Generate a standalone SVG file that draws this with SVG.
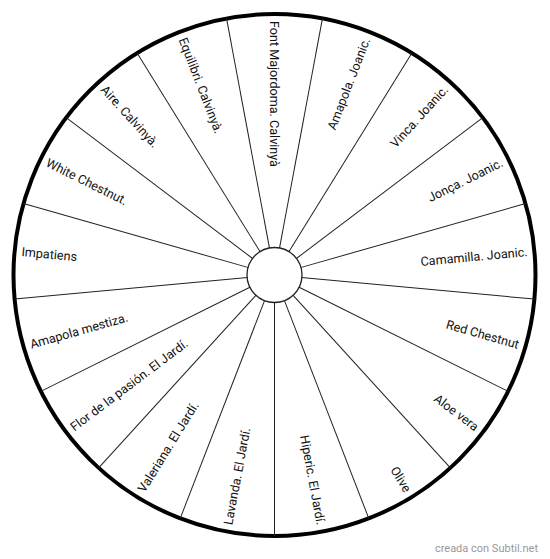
<svg xmlns="http://www.w3.org/2000/svg" width="550" height="559" viewBox="0 0 550 559">
<style>
.sp{stroke:#222;stroke-width:1}
.lb{font-family:Roboto,"Liberation Sans",sans-serif;font-size:12.6px;fill:#111;dominant-baseline:central}
.o{text-anchor:end}
.i{text-anchor:start}
</style>
<rect width="550" height="559" fill="#fff"/>
<circle cx="274.5" cy="275" r="261" fill="#fff" stroke="#000" stroke-width="4"/>
<g id="spokes">
<line class="sp" x1="274.5" y1="248" x2="274.5" y2="14" transform="rotate(10.588 274.5 275)"/>
<line class="sp" x1="274.5" y1="248" x2="274.5" y2="14" transform="rotate(31.765 274.5 275)"/>
<line class="sp" x1="274.5" y1="248" x2="274.5" y2="14" transform="rotate(52.941 274.5 275)"/>
<line class="sp" x1="274.5" y1="248" x2="274.5" y2="14" transform="rotate(74.118 274.5 275)"/>
<line class="sp" x1="274.5" y1="248" x2="274.5" y2="14" transform="rotate(95.294 274.5 275)"/>
<line class="sp" x1="274.5" y1="248" x2="274.5" y2="14" transform="rotate(116.471 274.5 275)"/>
<line class="sp" x1="274.5" y1="248" x2="274.5" y2="14" transform="rotate(137.647 274.5 275)"/>
<line class="sp" x1="274.5" y1="248" x2="274.5" y2="14" transform="rotate(158.824 274.5 275)"/>
<line class="sp" x1="274.5" y1="248" x2="274.5" y2="14" transform="rotate(180 274.5 275)"/>
<line class="sp" x1="274.5" y1="248" x2="274.5" y2="14" transform="rotate(201.176 274.5 275)"/>
<line class="sp" x1="274.5" y1="248" x2="274.5" y2="14" transform="rotate(222.353 274.5 275)"/>
<line class="sp" x1="274.5" y1="248" x2="274.5" y2="14" transform="rotate(243.529 274.5 275)"/>
<line class="sp" x1="274.5" y1="248" x2="274.5" y2="14" transform="rotate(264.706 274.5 275)"/>
<line class="sp" x1="274.5" y1="248" x2="274.5" y2="14" transform="rotate(285.882 274.5 275)"/>
<line class="sp" x1="274.5" y1="248" x2="274.5" y2="14" transform="rotate(307.059 274.5 275)"/>
<line class="sp" x1="274.5" y1="248" x2="274.5" y2="14" transform="rotate(328.235 274.5 275)"/>
<line class="sp" x1="274.5" y1="248" x2="274.5" y2="14" transform="rotate(349.412 274.5 275)"/>
</g>
<g id="hub"><circle cx="274.5" cy="275" r="27.5" fill="#fff" stroke="#222" stroke-width="1.3"/></g>
<g id="labels">
<g id="s0"><text class="lb i" x="20.5" y="275" transform="rotate(90 274.5 275)">Font Majordoma. Calvinyà</text></g>
<g id="s1"><text class="lb o" x="528.5" y="275" transform="rotate(-68.824 274.5 275)">Amapola. Joanic.</text></g>
<g id="s2"><text class="lb o" x="528.5" y="275" transform="rotate(-47.647 274.5 275)">Vinca. Joanic.</text></g>
<g id="s3"><text class="lb o" x="528.5" y="275" transform="rotate(-26.471 274.5 275)">Jonça. Joanic.</text></g>
<g id="s4"><text class="lb o" x="528.5" y="275" transform="rotate(-5.294 274.5 275)">Camamilla. Joanic.</text></g>
<g id="s5"><text class="lb o" x="528.5" y="275" transform="rotate(15.882 274.5 275)">Red Chestnut</text></g>
<g id="s6"><text class="lb o" x="528.5" y="275" transform="rotate(37.059 274.5 275)">Aloe vera</text></g>
<g id="s7"><text class="lb o" x="528.5" y="275" transform="rotate(58.235 274.5 275)">Olive</text></g>
<g id="s8"><text class="lb o" x="528.5" y="275" transform="rotate(79.412 274.5 275)">Hiperic. El Jardí.</text></g>
<g id="s9"><text class="lb i" x="20.5" y="275" transform="rotate(-79.412 274.5 275)">Lavanda. El Jardí.</text></g>
<g id="s10"><text class="lb i" x="20.5" y="275" transform="rotate(-58.235 274.5 275)">Valeriana. El Jardí.</text></g>
<g id="s11"><text class="lb i" x="20.5" y="275" transform="rotate(-37.059 274.5 275)">Flor de la pasión. El Jardí.</text></g>
<g id="s12"><text class="lb i" x="20.5" y="275" transform="rotate(-15.882 274.5 275)">Amapola mestiza.</text></g>
<g id="s13"><text class="lb i" x="20.5" y="275" transform="rotate(5.294 274.5 275)">Impatiens</text></g>
<g id="s14"><text class="lb i" x="20.5" y="275" transform="rotate(26.471 274.5 275)">White Chestnut.</text></g>
<g id="s15"><text class="lb i" x="20.5" y="275" transform="rotate(47.647 274.5 275)">Aire. Calvinyà.</text></g>
<g id="s16"><text class="lb i" x="20.5" y="275" transform="rotate(68.824 274.5 275)">Equilibri. Calvinyà.</text></g>
</g>
<text x="538" y="552" font-family="Roboto,'Liberation Sans',sans-serif" font-size="11" fill="#999" text-anchor="end">creada con Subtil.net</text>
</svg>
